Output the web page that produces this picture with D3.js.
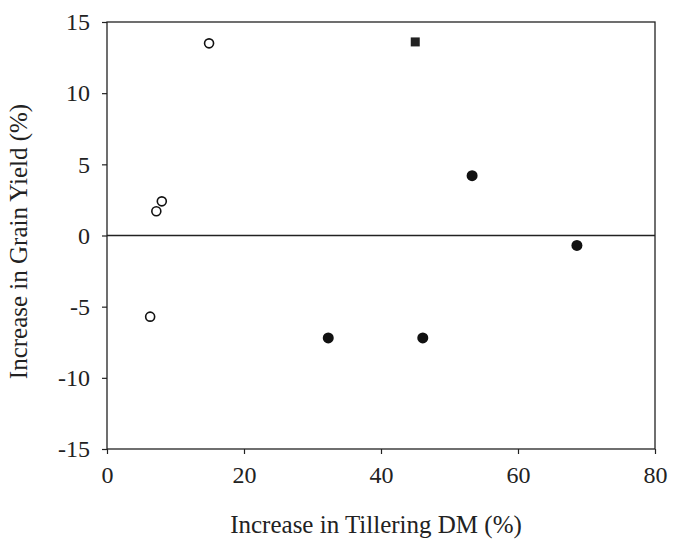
<!DOCTYPE html>
<html>
<head>
<meta charset="utf-8">
<script src="https://cdn.jsdelivr.net/npm/d3@7"></script>
<style>
  body { margin: 0; background: #fff; }
  text { font-family: "Liberation Serif", "Times New Roman", serif; fill: #222; }
</style>
</head>
<body>
<div id="my_dataviz"></div>
<script>
// data
const openX = [6.3, 7.2, 8.0, 14.9];
const openY = [-5.7, 1.7, 2.4, 13.5];
const squareX = [45.0];
const squareY = [13.6];
const filledX = [32.3, 46.1, 53.3, 68.6];
const filledY = [-7.2, -7.2, 4.2, -0.7];
const xTicks = [0, 20, 40, 60, 80];
const yTicks = [-15, -10, -5, 0, 5, 10, 15];

const margin = {top: 22, right: 20, bottom: 91, left: 107},
      width = 675 - margin.left - margin.right,
      height = 540 - margin.top - margin.bottom;

const svg = d3.select("#my_dataviz")
  .append("svg")
  .attr("width", 675)
  .attr("height", 540)
  .append("g")
  .attr("transform", `translate(${margin.left}, ${margin.top})`);

const x = d3.scaleLinear().domain([0, 80]).range([0, width]);
const y = d3.scaleLinear().domain([-15, 15]).range([height, 0]);

// frame
svg.append("rect")
  .attr("width", width).attr("height", height)
  .attr("fill", "none").attr("stroke", "#222").attr("stroke-width", 1.3);

// axes (plain hyphen for negatives, like the original)
const fmt = d => String(d);
const xAxis = svg.append("g")
  .attr("transform", `translate(0, ${height})`)
  .call(d3.axisBottom(x).tickValues(xTicks).tickSize(5).tickPadding(12).tickFormat(fmt));
const yAxis = svg.append("g")
  .call(d3.axisLeft(y).tickValues(yTicks).tickSize(5).tickPadding(12).tickFormat(fmt));
[xAxis, yAxis].forEach(a => {
  a.select(".domain").remove();
  a.selectAll("line").attr("stroke", "#222").attr("stroke-width", 1.2);
  a.selectAll("text").style("font-family", "Liberation Serif, serif").style("font-size", "24px").attr("fill", "#222");
});

// zero line
svg.append("line")
  .attr("x1", 0).attr("x2", width)
  .attr("y1", y(0)).attr("y2", y(0))
  .attr("stroke", "#222").attr("stroke-width", 1.5);

// open circles
svg.selectAll("circle.open")
  .data(openX.map((d, i) => [d, openY[i]]))
  .join("circle")
  .attr("class", "open")
  .attr("cx", d => x(d[0])).attr("cy", d => y(d[1]))
  .attr("r", 4.5)
  .attr("fill", "#fff").attr("stroke", "#111").attr("stroke-width", 1.6);

// filled circles
svg.selectAll("circle.filled")
  .data(filledX.map((d, i) => [d, filledY[i]]))
  .join("circle")
  .attr("class", "filled")
  .attr("cx", d => x(d[0])).attr("cy", d => y(d[1]))
  .attr("r", 5.5)
  .attr("fill", "#111");

// square
svg.selectAll("rect.sq")
  .data(squareX.map((d, i) => [d, squareY[i]]))
  .join("rect")
  .attr("class", "sq")
  .attr("x", d => x(d[0]) - 4.5).attr("y", d => y(d[1]) - 4.5)
  .attr("width", 9).attr("height", 9)
  .attr("fill", "#222");

// axis titles
svg.append("text")
  .attr("x", width / 2 - 5).attr("y", height + 84)
  .attr("text-anchor", "middle")
  .style("font-size", "25px")
  .text("Increase in Tillering DM (%)");

svg.append("text")
  .attr("transform", `translate(${-80}, ${height / 2 + 6}) rotate(-90)`)
  .attr("text-anchor", "middle")
  .style("font-size", "25px")
  .text("Increase in Grain Yield (%)");
</script>
</body>
</html>
